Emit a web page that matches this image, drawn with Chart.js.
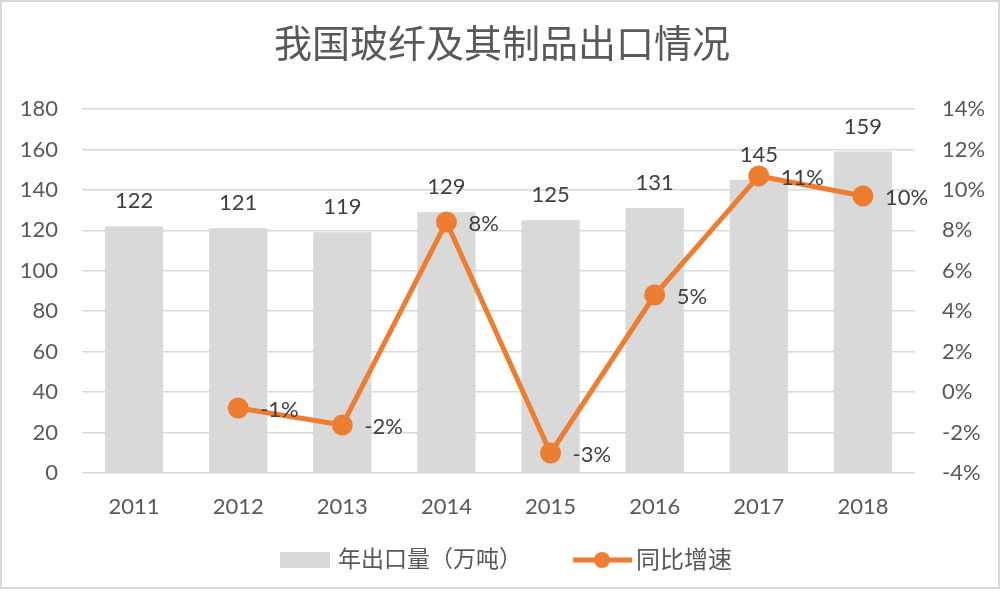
<!DOCTYPE html>
<html>
<head>
<meta charset="utf-8">
<script src="https://cdn.jsdelivr.net/npm/chart.js@4/dist/chart.umd.min.js"></script>
<style>
  html, body { margin: 0; padding: 0; background: #fff; }
  #wrap { width: 1002px; height: 602px; }
</style>
</head>
<body>
<div id="wrap"><canvas id="c" width="1002" height="602"></canvas></div>
<script>
const years = ["2011", "2012", "2013", "2014", "2015", "2016", "2017", "2018"];
const exportVolume = [122, 121, 119, 129, 125, 131, 145, 159];
const growthRate = [null, -0.79, -1.63, 8.41, -3.01, 4.8, 10.69, 9.7];
const growthLabels = ["", "-1%", "-2%", "8%", "-3%", "5%", "11%", "10%"];
const titleText = "我国玻纤及其制品出口情况";
const barName = "年出口量（万吨）";
const lineName = "同比增速";

const FONT = "Lato, 'Noto Sans CJK SC', sans-serif";
const grey = "#595959";
const barColor = "#d9d9d9";
const orange = "#ed7d31";

// title, frame, data labels and legend drawn by hand
const extras = {
  id: "extras",
  beforeDraw(chart) {
    const ctx = chart.ctx;
    ctx.save();
    ctx.strokeStyle = "#d9d9d9";
    ctx.lineWidth = 2;
    ctx.strokeRect(1, 1, 998, 587);
    ctx.restore();
  },
  afterDatasetsDraw(chart) {
    const ctx = chart.ctx;
    ctx.save();
    ctx.fillStyle = grey;
    ctx.textAlign = "center";
    ctx.textBaseline = "middle";
    ctx.font = "38px " + FONT;
    ctx.fillText(titleText, 502, 45);

    ctx.fillStyle = "#404040";
    ctx.font = "22px " + FONT;
    chart.getDatasetMeta(0).data.forEach((bar, i) => {
      ctx.textAlign = "center";
      ctx.fillText(String(exportVolume[i]), bar.x, bar.y - 25);
    });
    chart.getDatasetMeta(1).data.forEach((pt, i) => {
      if (growthRate[i] === null) return;
      ctx.textAlign = "left";
      ctx.fillText(growthLabels[i], pt.x + 22, pt.y + 2);
    });

    // legend
    const ly = 560;
    ctx.fillStyle = barColor;
    ctx.fillRect(280, ly - 8, 50, 16);
    ctx.fillStyle = grey;
    ctx.font = "23px " + FONT;
    ctx.textAlign = "left";
    ctx.fillText(barName, 338, ly);
    ctx.strokeStyle = orange;
    ctx.lineWidth = 5;
    ctx.beginPath();
    ctx.moveTo(573, ly);
    ctx.lineTo(632, ly);
    ctx.stroke();
    ctx.fillStyle = orange;
    ctx.beginPath();
    ctx.arc(602, ly, 8, 0, Math.PI * 2);
    ctx.fill();
    ctx.fillStyle = grey;
    ctx.font = "24px " + FONT;
    ctx.fillText(lineName, 636, ly);
    ctx.restore();
  }
};

new Chart(document.getElementById("c"), {
  data: {
    labels: years,
    datasets: [
      {
        type: "bar",
        label: barName,
        data: exportVolume,
        backgroundColor: barColor,
        yAxisID: "y",
        categoryPercentage: 1,
        barPercentage: 0.56,
        order: 2
      },
      {
        type: "line",
        label: lineName,
        data: growthRate,
        borderColor: orange,
        backgroundColor: orange,
        borderWidth: 5,
        pointRadius: 8,
        pointHoverRadius: 8,
        tension: 0,
        yAxisID: "y1",
        order: 1
      }
    ]
  },
  options: {
    responsive: false,
    animation: false,
    layout: { padding: { top: 109, bottom: 69, left: 10, right: 10 } },
    plugins: {
      legend: { display: false },
      tooltip: { enabled: false },
      title: { display: false }
    },
    scales: {
      x: {
        grid: { display: false },
        border: { display: false },
        ticks: { color: grey, font: { size: 22, family: FONT }, padding: 13 },
        afterFit(s) { s.height = 60; }
      },
      y: {
        position: "left",
        min: 0,
        max: 180,
        grid: { color: "#d9d9d9", lineWidth: 1.5, drawTicks: false },
        border: { display: false },
        ticks: { stepSize: 20, color: grey, font: { size: 22, family: FONT }, padding: 24 },
        afterFit(s) { s.width = 72; }
      },
      y1: {
        position: "right",
        min: -4,
        max: 14,
        grid: { display: false, drawTicks: false },
        border: { display: false },
        ticks: {
          stepSize: 2,
          color: grey,
          font: { size: 22, family: FONT },
          padding: 27,
          callback: v => v + "%"
        },
        afterFit(s) { s.width = 77; }
      }
    }
  },
  plugins: [extras]
});
</script>
</body>
</html>
